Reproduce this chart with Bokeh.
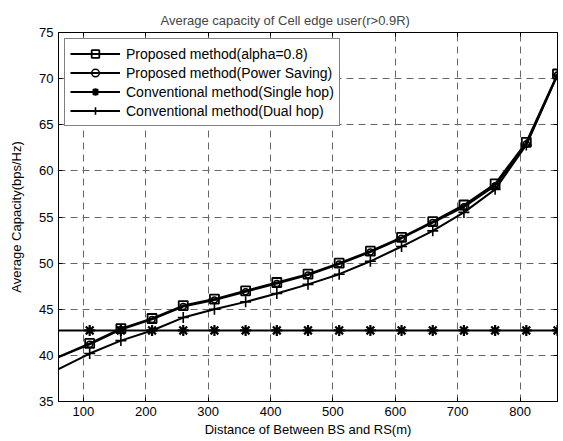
from bokeh.plotting import figure
from bokeh.models import LinearAxis, Range1d, FixedTicker, Legend, LegendItem, Title
from bokeh.embed import file_html
from bokeh.resources import INLINE

# data
distance = [10, 110, 160, 210, 260, 310, 360, 410, 460, 510, 560, 610, 660, 710, 760, 810, 860]
proposed_alpha = [38.4, 41.3, 42.9, 44.0, 45.4, 46.1, 47.0, 47.9, 48.8, 50.0, 51.3, 52.8, 54.5, 56.3, 58.6, 63.1, 70.5]
proposed_power = [38.4, 41.2, 42.8, 43.9, 45.3, 46.0, 46.9, 47.8, 48.7, 49.9, 51.2, 52.7, 54.4, 56.1, 58.4, 62.9, 70.4]
single_hop = [42.7] * len(distance)
dual_hop = [36.8, 40.2, 41.6, 42.7, 44.1, 45.0, 45.8, 46.7, 47.7, 48.8, 50.2, 51.8, 53.5, 55.5, 58.0, 62.8, 70.4]
x_ticks = [100, 200, 300, 400, 500, 600, 700, 800]
y_ticks = [35, 40, 45, 50, 55, 60, 65, 70, 75]

FONT = "Liberation Sans"

p = figure(width=563, height=441, output_backend="svg", toolbar_location=None,
           x_range=Range1d(60, 860), y_range=Range1d(35, 75),
           min_border_left=58, min_border_right=6, min_border_top=32, min_border_bottom=40)
p.background_fill_color = "white"
p.border_fill_color = "white"
p.outline_line_color = "black"
p.outline_line_width = 1
p.outline_line_alpha = 1

for ax in (p.xaxis[0], p.yaxis[0]):
    ax.major_tick_in = 4
    ax.major_tick_out = 0
    ax.minor_tick_in = 0
    ax.minor_tick_out = 0
    ax.axis_line_color = "black"
    ax.major_tick_line_color = "black"
    ax.major_label_text_font = FONT
    ax.major_label_text_font_size = "13px"
    ax.major_label_text_color = "black"
    ax.axis_label_text_font = FONT
    ax.axis_label_text_font_size = "13px"
    ax.axis_label_text_font_style = "normal"
    ax.axis_label_text_color = "black"
    ax.major_label_standoff = 5

p.xaxis[0].ticker = FixedTicker(ticks=x_ticks)
p.yaxis[0].ticker = FixedTicker(ticks=y_ticks)
p.xaxis[0].axis_label = "Distance of Between BS and RS(m)"
p.yaxis[0].axis_label = "Average Capacity(bps/Hz)"
p.xaxis[0].axis_label_standoff = 3
p.yaxis[0].axis_label_standoff = 12

top = LinearAxis(ticker=FixedTicker(ticks=x_ticks),
                 major_label_overrides={t: "" for t in x_ticks})
right = LinearAxis(ticker=FixedTicker(ticks=y_ticks),
                   major_label_overrides={t: "" for t in y_ticks})
for ax in (top, right):
    ax.major_tick_in = 4
    ax.major_tick_out = 0
    ax.minor_tick_in = 0
    ax.minor_tick_out = 0
    ax.major_label_text_font_size = "1px"
    ax.major_label_standoff = 0
    ax.axis_line_color = "black"
    ax.major_tick_line_color = "black"
p.add_layout(top, "above")
p.add_layout(right, "right")

p.xgrid.ticker = FixedTicker(ticks=x_ticks)
p.ygrid.ticker = FixedTicker(ticks=y_ticks)
for g in (p.xgrid[0], p.ygrid[0]):
    g.grid_line_color = "#666666"
    g.grid_line_dash = "7 5"
    g.grid_line_width = 1

p.title = Title(text="Average capacity of Cell edge user(r>0.9R)", text_font=FONT,
                text_font_size="13px", text_font_style="normal", align="left",
                offset=102, standoff=10)

LW = 2
l1 = p.line(distance, proposed_alpha, line_color="black", line_width=LW)
m1 = p.scatter(distance, proposed_alpha, marker="square", size=9, fill_color=None,
               line_color="black", line_width=1.8)
l2 = p.line(distance, proposed_power, line_color="black", line_width=LW)
m2 = p.scatter(distance, proposed_power, marker="circle", size=6, fill_color=None,
               line_color="black", line_width=1.5)
l3 = p.line(distance, single_hop, line_color="black", line_width=LW)
m3 = p.scatter(distance, single_hop, marker="asterisk", size=11,
               line_color="black", line_width=2.2)
l4 = p.line(distance, dual_hop, line_color="black", line_width=LW)
m4 = p.scatter(distance, dual_hop, marker="cross", size=11,
               line_color="black", line_width=1.6)

legend = Legend(items=[
    LegendItem(label="Proposed method(alpha=0.8)", renderers=[l1, m1]),
    LegendItem(label="Proposed method(Power Saving)", renderers=[l2, m2]),
    LegendItem(label="Conventional method(Single hop)", renderers=[l3, m3]),
    LegendItem(label="Conventional method(Dual hop)", renderers=[l4, m4]),
], location="top_left")
legend.label_text_font = FONT
legend.label_text_font_size = "14px"
legend.label_text_color = "black"
legend.glyph_width = 50
legend.glyph_height = 19
legend.label_height = 19
legend.spacing = 0
legend.padding = 5
legend.margin = 6
legend.label_standoff = 6
legend.border_line_color = "black"
legend.border_line_width = 1
legend.background_fill_color = "white"
legend.background_fill_alpha = 1
p.add_layout(legend, "center")

open("out.html", "w").write(file_html(p, INLINE))
